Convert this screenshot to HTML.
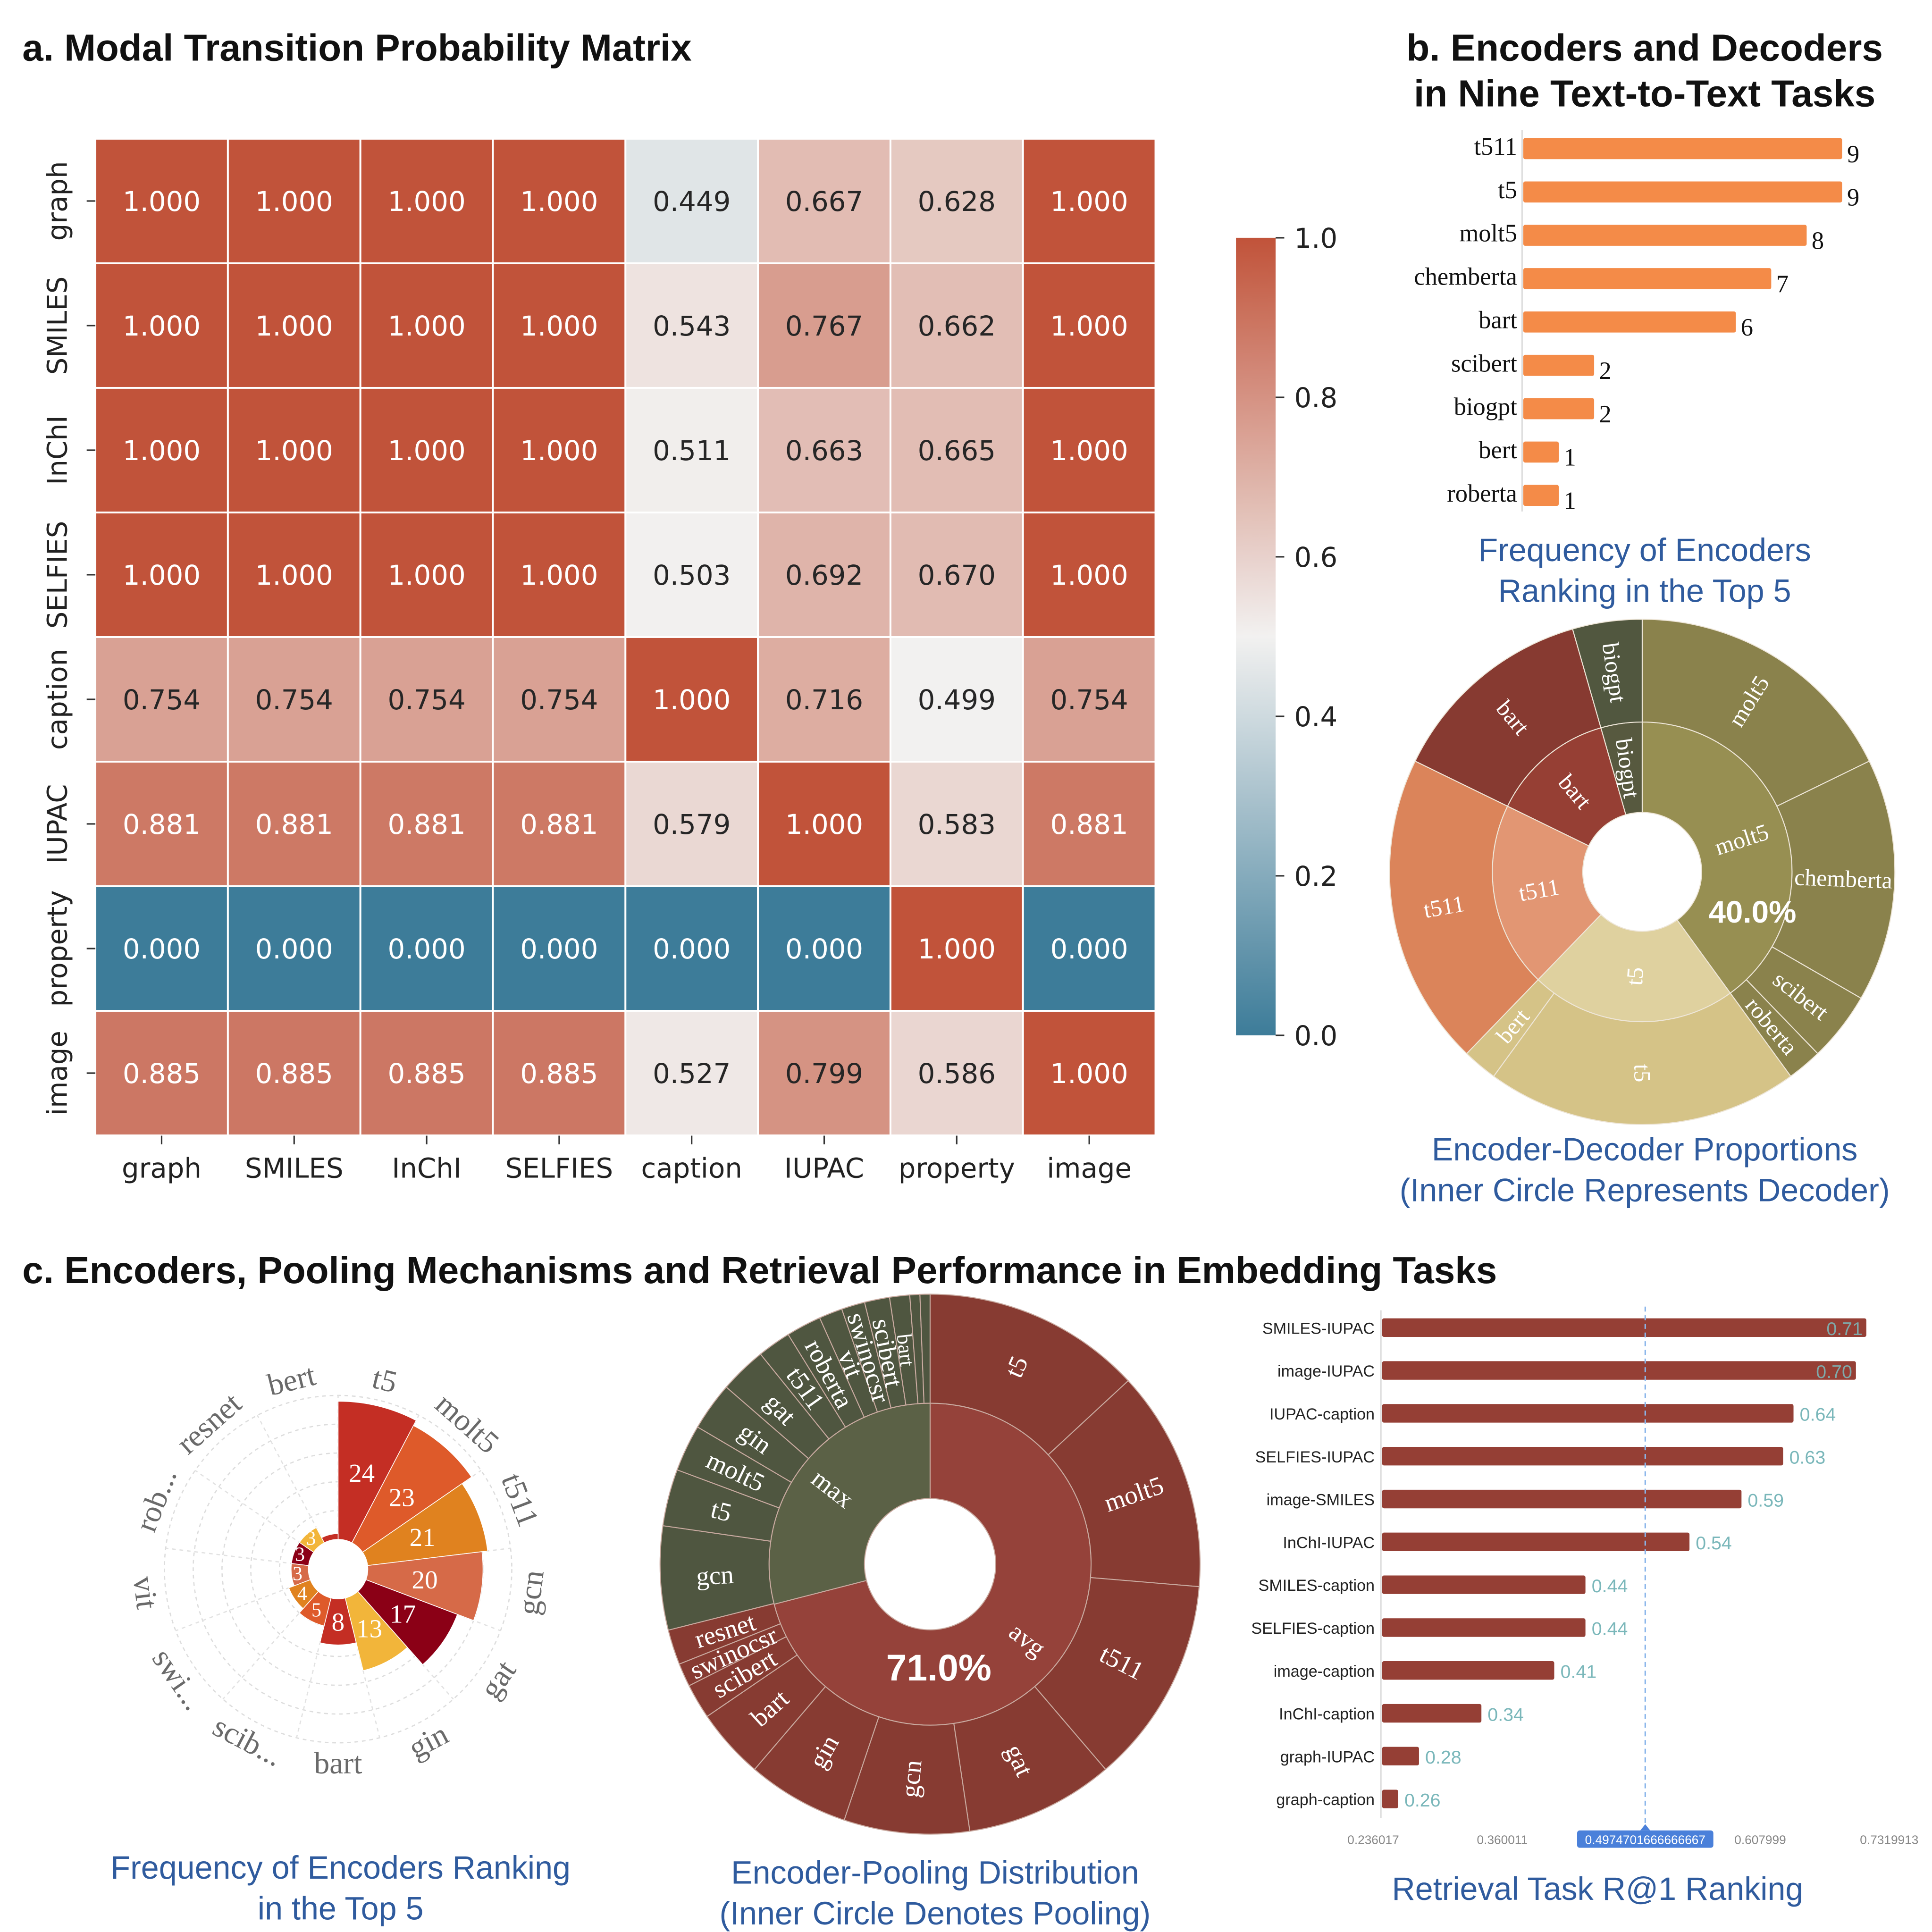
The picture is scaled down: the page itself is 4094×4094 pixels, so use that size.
<!DOCTYPE html>
<html><head><meta charset="utf-8"><style>
html,body{margin:0;padding:0;background:#fff;}
svg{display:block;}
.sans{font-family:"Liberation Sans",sans-serif;}
.dv{font-family:"DejaVu Sans","Liberation Sans",sans-serif;}
.serif{font-family:"Liberation Serif",serif;}
</style></head><body>
<svg id="fig" xmlns="http://www.w3.org/2000/svg" width="4094" height="4094" viewBox="0 0 1560 1560">
<rect x="0" y="0" width="1560" height="1560" fill="#fff"/>
<text class="sans" x="18" y="49" font-size="30.5" font-weight="bold" fill="#111">a. Modal Transition Probability Matrix</text>
<text class="sans" x="1328" y="49" font-size="30.5" font-weight="bold" fill="#111" text-anchor="middle">b. Encoders and Decoders</text>
<text class="sans" x="1328" y="86" font-size="30.5" font-weight="bold" fill="#111" text-anchor="middle">in Nine Text-to-Text Tasks</text>
<text class="sans" x="18" y="1036" font-size="30.5" font-weight="bold" fill="#111">c. Encoders, Pooling Mechanisms and Retrieval Performance in Embedding Tasks</text>
<text class="sans" x="1328" y="453" font-size="26" fill="#2f5b9e" text-anchor="middle">Frequency of Encoders</text>
<text class="sans" x="1328" y="486" font-size="26" fill="#2f5b9e" text-anchor="middle">Ranking in the Top 5</text>
<text class="sans" x="1328" y="937" font-size="26" fill="#2f5b9e" text-anchor="middle">Encoder-Decoder Proportions</text>
<text class="sans" x="1328" y="970" font-size="26" fill="#2f5b9e" text-anchor="middle">(Inner Circle Represents Decoder)</text>
<text class="sans" x="275" y="1517" font-size="26" fill="#2f5b9e" text-anchor="middle">Frequency of Encoders Ranking</text>
<text class="sans" x="275" y="1550" font-size="26" fill="#2f5b9e" text-anchor="middle">in the Top 5</text>
<text class="sans" x="755" y="1521" font-size="26" fill="#2f5b9e" text-anchor="middle">Encoder-Pooling Distribution</text>
<text class="sans" x="755" y="1554" font-size="26" fill="#2f5b9e" text-anchor="middle">(Inner Circle Denotes Pooling)</text>
<text class="sans" x="1290" y="1534" font-size="26" fill="#2f5b9e" text-anchor="middle">Retrieval Task R@1 Ranking</text>
</svg>
<script>
// ---------- data ----------
const hmLabels = ["graph","SMILES","InChI","SELFIES","caption","IUPAC","property","image"];
const hmRow0 = [1,1,1,1,0.449,0.667,0.628,1];
const hmRow1 = [1,1,1,1,0.543,0.767,0.662,1];
const hmRow2 = [1,1,1,1,0.511,0.663,0.665,1];
const hmRow3 = [1,1,1,1,0.503,0.692,0.670,1];
const hmRow4 = [0.754,0.754,0.754,0.754,1,0.716,0.499,0.754];
const hmRow5 = [0.881,0.881,0.881,0.881,0.579,1,0.583,0.881];
const hmRow6 = [0,0,0,0,0,0,1,0];
const hmRow7 = [0.885,0.885,0.885,0.885,0.527,0.799,0.586,1];
const hmRows = [hmRow0,hmRow1,hmRow2,hmRow3,hmRow4,hmRow5,hmRow6,hmRow7];
const cbTicks = [0,0.2,0.4,0.6,0.8,1.0];

const encNames = ["t511","t5","molt5","chemberta","bart","scibert","biogpt","bert","roberta"];
const encCounts = [9,9,8,7,6,2,2,1,1];

const sbDecoders = ["molt5","t5","t511","bart","biogpt"];
const sbDecoderVals = [18,10,9,6,2];
const sbEncNames = ["molt5","chemberta","scibert","roberta","t5","bert","t511","bart","biogpt"];
const sbEncVals = [8,7,2,1,9,1,9,6,2];
const sbEncParent = [0,0,0,0,1,1,2,3,4];

const poolNames = ["avg","max"];
const poolVals = [71,29];
const peNames = ["t5","molt5","t511","gat","gcn","gin","bart","scibert","swinocsr","resnet","gcn","t5","molt5","gin","gat","t511","roberta","vit","swinocsr","scibert","bart","",""];
const peVals = [13.1,13.2,12.4,8.9,7.5,6.1,4.2,2.1,1.4,2.1,6.2,3.4,2.8,2.9,2.8,2.0,2.1,1.4,1.4,1.5,1.2,0.6,0.6];
const peParent = [0,0,0,0,0,0,0,0,0,0,1,1,1,1,1,1,1,1,1,1,1,1,1];

const polarNames = ["t5","molt5","t511","gcn","gat","gin","bart","scib...","swi...","vit","rob...","resnet","bert"];
const polarVals = [24,23,21,20,17,13,8,5,4,3,3,3,1];

const retNames = ["SMILES-IUPAC","image-IUPAC","IUPAC-caption","SELFIES-IUPAC","image-SMILES","InChI-IUPAC","SMILES-caption","SELFIES-caption","image-caption","InChI-caption","graph-IUPAC","graph-caption"];
const retVals = [0.71,0.70,0.64,0.63,0.59,0.54,0.44,0.44,0.41,0.34,0.28,0.26];
const retTicks = ["0.236017","0.360011","0.4974701666666667","0.607999","0.7319913"];
const retTickVals = [0.236017,0.360011,0.4974701666666667,0.607999,0.7319913];

// ---------- helpers ----------
const NS="http://www.w3.org/2000/svg";
const svg=document.getElementById('fig');
function mk(tag,attrs,parent){const e=document.createElementNS(NS,tag);for(const k in attrs)e.setAttribute(k,attrs[k]);(parent||svg).appendChild(e);return e;}
function txt(s,attrs,parent){const e=mk('text',attrs,parent);e.textContent=s;return e;}
function pol(cx,cy,r,a){const t=(a-90)*Math.PI/180;return [cx+r*Math.cos(t),cy+r*Math.sin(t)];}
function sector(cx,cy,r0,r1,a0,a1){
  const large=(a1-a0)>180?1:0;
  const p1=pol(cx,cy,r1,a0),p2=pol(cx,cy,r1,a1),p3=pol(cx,cy,r0,a1),p4=pol(cx,cy,r0,a0);
  return `M${p1[0]},${p1[1]} A${r1},${r1} 0 ${large} 1 ${p2[0]},${p2[1]} L${p3[0]},${p3[1]} A${r0},${r0} 0 ${large} 0 ${p4[0]},${p4[1]} Z`;
}
function radialRot(a){return a>180? a-270 : a-90;}

// ---------- heatmap ----------
const hmX0=77,hmY0=112,cw=107,ch=100.6;
function hmColor(v){
  const a=[61,124,153],m=[242,241,240],b=[193,83,58];
  let c;
  if(v<=0.5){const t=v/0.5;c=a.map((x,i)=>x+(m[i]-x)*t);}else{const t=(v-0.5)/0.5;c=m.map((x,i)=>x+(b[i]-x)*t);}
  return `rgb(${c.map(Math.round).join(',')})`;
}
const hmG=mk('g',{});


hmRows.forEach((row,i)=>{
  row.forEach((v,j)=>{
    const r=mk('rect',{x:hmX0+j*cw,y:hmY0+i*ch,width:cw,height:ch,fill:hmColor(v),stroke:'#fff','stroke-width':1.5},hmG);
    
    
    const t=txt(v.toFixed(3),{x:hmX0+j*cw+cw/2,y:hmY0+i*ch+ch/2+8,'font-size':22,'text-anchor':'middle',fill:(v>0.8||v<0.2)?'#fff':'#262626',class:'dv'},hmG);
    
    
  });
});
hmLabels.forEach((s,i)=>{
  const cy=hmY0+i*ch+ch/2;
  mk('line',{x1:70,y1:cy,x2:77,y2:cy,stroke:'#333','stroke-width':1.2});
  const t=txt(s,{x:0,y:0,'font-size':22,'text-anchor':'middle',fill:'#222',class:'dv',transform:`translate(54,${cy}) rotate(-90)`});
  
  
  const cx=hmX0+i*cw+cw/2;
  mk('line',{x1:cx,y1:917,x2:cx,y2:924,stroke:'#333','stroke-width':1.2});
  const t2=txt(s,{x:cx,y:951,'font-size':22,'text-anchor':'middle',fill:'#222',class:'dv'});
  
  
});
// colorbar
const defs=mk('defs',{});
const lg=mk('linearGradient',{id:'cbg',x1:0,y1:1,x2:0,y2:0},defs);
for(let k=0;k<=20;k++){mk('stop',{offset:k/20,'stop-color':hmColor(k/20)},lg);}
const cbTop=192,cbBot=836;
const cb=mk('rect',{x:998,y:cbTop,width:32,height:cbBot-cbTop,fill:'url(#cbg)'});


cbTicks.forEach(v=>{
  const y=cbBot-(cbBot-cbTop)*v;
  mk('line',{x1:1030,y1:y,x2:1037,y2:y,stroke:'#333','stroke-width':1.2});
  const t=txt(v.toFixed(1),{x:1045,y:y+8,'font-size':22,fill:'#222',class:'dv'});
  
  
});

// ---------- panel b bar chart ----------
const bX0=1229,bUnit=28.6,bY0=120,bStep=35,bH=17;
mk('line',{x1:bX0,y1:105,x2:bX0,y2:413,stroke:'#ddd','stroke-width':1.2});
encNames.forEach((s,i)=>{
  const y=bY0+i*bStep;
  const r=mk('rect',{x:bX0+1,y:y-bH/2,width:encCounts[i]*bUnit,height:bH,fill:'#f48b48',rx:1.5});
  
  
  const l=txt(s,{x:bX0-4,y:y+5,'font-size':20,'text-anchor':'end',fill:'#111',class:'serif'});
  
  
  const v=txt(String(encCounts[i]),{x:bX0+encCounts[i]*bUnit+5,y:y+11,'font-size':20,fill:'#111',class:'serif'});
  
  
});

// ---------- sunburst b ----------
(function(){
  const cx=1326,cy=704,rH=48,rM=121,rO=204;
  const decCols=[['#978f52','#8a824c'],['#dfd19f','#d5c387'],['#e29673','#db845a'],['#963f34','#873a31'],['#57593f','#51573f']];
  const tot=sbDecoderVals.reduce((a,b)=>a+b,0);
  let a=0;
  sbDecoders.forEach((s,i)=>{
    const a1=a+sbDecoderVals[i]/tot*360;
    const p=mk('path',{d:sector(cx,cy,rH,rM,a,a1),fill:decCols[i][0],stroke:'#eee6d8','stroke-width':0.8});
    
    
    const m=(a+a1)/2,pt=pol(cx,cy,(rH+rM)/2,m);
    const t=txt(s,{x:pt[0],y:pt[1],'font-size':19,'text-anchor':'middle','dominant-baseline':'central',fill:'#fff',class:'serif',transform:`rotate(${radialRot(m)},${pt[0]},${pt[1]})`});
    
    
    a=a1;
  });
  a=0;
  sbEncNames.forEach((s,i)=>{
    const a1=a+sbEncVals[i]/tot*360;
    const p=mk('path',{d:sector(cx,cy,rM,rO,a,a1),fill:decCols[sbEncParent[i]][1],stroke:'#eee6d8','stroke-width':0.8});
    
    
    const m=(a+a1)/2,pt=pol(cx,cy,(rM+rO)/2,m);
    const t=txt(s,{x:pt[0],y:pt[1],'font-size':19,'text-anchor':'middle','dominant-baseline':'central',fill:'#fff',class:'serif',transform:`rotate(${radialRot(m)},${pt[0]},${pt[1]})`});
    
    
    a=a1;
  });
  const pc=txt((sbDecoderVals[0]/tot*100).toFixed(1)+'%',{x:1415,y:745,'font-size':25,'font-weight':'bold','text-anchor':'middle',fill:'#fff',class:'sans'});
  
  
})();

// ---------- sunburst c ----------
(function(){
  const cx=751,cy=1263,rH=53,rM=130,rO=218;
  const inCols=['#95423a','#5b6146'],outCols=['#873b32','#4f5640'];
  const tot=poolVals.reduce((a,b)=>a+b,0);
  let a=0;
  poolNames.forEach((s,i)=>{
    const a1=a+poolVals[i]/tot*360;
    const p=mk('path',{d:sector(cx,cy,rH,rM,a,a1),fill:inCols[i],stroke:'#c9aaa0','stroke-width':0.8});
    
    
    const m=(a+a1)/2,pt=pol(cx,cy,(rH+rM)/2+8,m);
    const t=txt(s,{x:pt[0],y:pt[1],'font-size':21,'text-anchor':'middle','dominant-baseline':'central',fill:'#fff',class:'serif',transform:`rotate(${radialRot(m)},${pt[0]},${pt[1]})`});
    
    
    a=a1;
  });
  const etot=peVals.reduce((x,y)=>x+y,0);
  a=0;
  peNames.forEach((s,i)=>{
    const a1=a+peVals[i]/etot*360;
    const p=mk('path',{d:sector(cx,cy,rM,rO,a,a1),fill:outCols[peParent[i]],stroke:'#c9aaa0','stroke-width':0.8});
    
    
    if(s){
      const m=(a+a1)/2,pt=pol(cx,cy,(rM+rO)/2,m);
      const small=(a1-a)<5;
      const t=txt(s,{x:pt[0],y:pt[1],'font-size':small?17:21,'text-anchor':'middle','dominant-baseline':'central',fill:'#fff',class:'serif',transform:`rotate(${radialRot(m)},${pt[0]},${pt[1]})`});
      
      
    }
    a=a1;
  });
  const pc=txt((poolVals[0]/tot*100).toFixed(1)+'%',{x:758,y:1357,'font-size':30,'font-weight':'bold','text-anchor':'middle',fill:'#fff',class:'sans'});
  
  
})();

// ---------- polar bar ----------
(function(){
  const cx=273,cy=1267,r0=24,unit=4.65,n=polarNames.length,w=360/n;
  const cols=['#c42e24','#de5a2a','#e0821f','#d66a48','#8b0016','#f2b53a'];
  [5,10,15,20,25].forEach(v=>{
    const c=mk('circle',{cx:cx,cy:cy,r:r0+v*unit,fill:'none',stroke:'#ddd','stroke-width':1,'stroke-dasharray':'3,3'});
    
    
  });
  for(let i=0;i<n;i++){
    const p1=pol(cx,cy,r0,i*w),p2=pol(cx,cy,r0+25*unit,i*w);
    mk('line',{x1:p1[0],y1:p1[1],x2:p2[0],y2:p2[1],stroke:'#e2e2e2','stroke-width':1,'stroke-dasharray':'3,3'});
  }
  polarNames.forEach((s,i)=>{
    const a0=i*w,a1=(i+1)*w,rr=r0+polarVals[i]*unit;
    const p=mk('path',{d:sector(cx,cy,r0,rr,a0,a1),fill:cols[i%6],stroke:'#fff','stroke-width':0.6});
    
    
    const m=(a0+a1)/2;
    if(polarVals[i]>=3){
      const pt=pol(cx,cy,(r0+rr)/2+(polarVals[i]<6?2:0),m);
      const t=txt(String(polarVals[i]),{x:pt[0],y:pt[1],'font-size':polarVals[i]<6?16:21,'text-anchor':'middle','dominant-baseline':'central',fill:'#fff',class:'serif'});
      
      
    }
    const lp=pol(cx,cy,157,m);
    const rot=(m>90&&m<270)?m-180:m;
    const l=txt(s,{x:lp[0],y:lp[1],'font-size':25,'text-anchor':'middle','dominant-baseline':'central',fill:'#6a6a6a',class:'serif',transform:`rotate(${rot},${lp[0]},${lp[1]})`});
    
    
  });
})();

// ---------- retrieval bar chart ----------
(function(){
  const x0=1111,dmin=0.2386,slope=840,y0=1072,step=34.6,h=15;
  const X=v=>x0+(v-dmin)*slope;
  mk('line',{x1:x0+4,y1:1058,x2:x0+4,y2:1468,stroke:'#ddd','stroke-width':1.2});
  retNames.forEach((s,i)=>{
    const y=y0+i*step;
    const r=mk('rect',{x:x0+5,y:y-h/2,width:X(retVals[i])-x0-5,height:h,fill:'#953f35',rx:1.5});
    
    
    const l=txt(s,{x:x0-1,y:y+5,'font-size':13,'text-anchor':'end',fill:'#222',class:'sans'});
    
    
    const inside=i<2;
    const v=txt(retVals[i].toFixed(2),{x:inside?X(retVals[i])-3:X(retVals[i])+5,y:y+6,'font-size':15,'text-anchor':inside?'end':'start',fill:inside?'#7fa9a9':'#7ab7ba',class:'sans'});
    
    
  });
  const mean=retTickVals[2];
  const ml=mk('line',{x1:X(mean),y1:1055,x2:X(mean),y2:1472,stroke:'#8ab6ea','stroke-width':1.2,'stroke-dasharray':'4,3'});
  
  
  retTicks.forEach((s,i)=>{
    const x=X(retTickVals[i]);
    if(i===2){
      const bx=mk('rect',{x:x-55,y:1478,width:110,height:14,fill:'#4a80da',rx:2});
      
      
      mk('path',{d:`M${x-4},1478 L${x},1473 L${x+4},1478 Z`,fill:'#4a80da'});
    }
    const t=txt(s,{x:x,y:1489,'font-size':10,'text-anchor':'middle',fill:i===2?'#fff':'#888',class:'sans'});
    
    
  });
})();
</script>
</body></html>
